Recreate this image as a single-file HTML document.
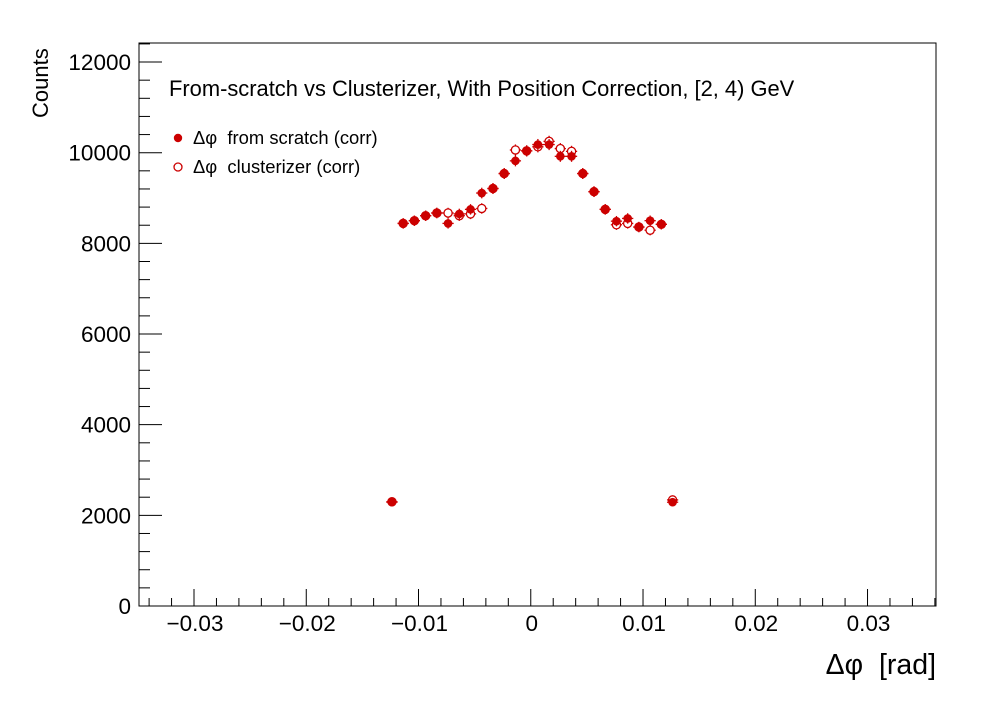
<!DOCTYPE html>
<html><head><meta charset="utf-8"><style>
body{margin:0;background:#fff}
svg text{font-family:"Liberation Sans",sans-serif;white-space:pre}
</style></head><body>
<svg id="chart" width="996" height="722" xmlns="http://www.w3.org/2000/svg">
<rect width="996" height="722" fill="#fff"/>
<rect x="139" y="43" width="797" height="563" fill="none" stroke="#000" stroke-width="1"/>
<g id="axes"></g>
<g id="marks"></g>
<text x="169" y="96" font-size="21.9">From-scratch vs Clusterizer, With Position Correction, [2, 4) GeV</text>
<g>
<circle cx="178" cy="138" r="4.2" fill="#cc0000"/>
<text x="193" y="144" font-size="18.4">Δφ  from scratch (corr)</text>
<circle cx="178" cy="167" r="4" fill="none" stroke="#cc0000" stroke-width="1.3"/>
<text x="193" y="173" font-size="18.4">Δφ  clusterizer (corr)</text>
</g>
<text transform="translate(48,118) rotate(-90)" font-size="22">Counts</text>
<text x="936" y="674" font-size="28.5" text-anchor="end">Δφ  [rad]</text>
</svg>
<script>
const xCenters=[-0.0125,-0.0115,-0.0105,-0.0095,-0.0085,-0.0075,-0.0065,-0.0055,-0.0045,-0.0035,-0.0025,-0.0015,-0.0005,0.0005,0.0015,0.0025,0.0035,0.0045,0.0055,0.0065,0.0075,0.0085,0.0095,0.0105,0.0115,0.0125];
const scratchVals=[2290,8440,8500,8610,8670,8440,8650,8750,9110,9210,9540,9820,10040,10180,10180,9920,9920,9540,9140,8750,8490,8550,8360,8500,8420,2290];
const clusterVals=[2300,8440,8500,8610,8670,8670,8610,8650,8770,9210,9540,10060,10040,10130,10250,10090,10030,9540,9140,8750,8410,8440,8360,8290,8420,2340];
const xTicks=[-0.03,-0.02,-0.01,0,0.01,0.02,0.03];
const xTickLabels=["−0.03","−0.02","−0.01","0","0.01","0.02","0.03"];
const yTicks=[0,2000,4000,6000,8000,10000,12000];
const yTickLabels=["0","2000","4000","6000","8000","10000","12000"];
const X0=139,X1=936,Y0=606,Y1=43;
const xmin=-0.0349,xmax=0.0361,ymin=0,ymax=12420;
const sx=v=>X0+(v-xmin)/(xmax-xmin)*(X1-X0);
const sy=v=>Y0-(v-ymin)/(ymax-ymin)*(Y0-Y1);
const NS="http://www.w3.org/2000/svg";
const axes=document.getElementById('axes'),marks=document.getElementById('marks');
function mk(tag,attrs,parent){const e=document.createElementNS(NS,tag);for(const k in attrs)e.setAttribute(k,attrs[k]);parent.appendChild(e);return e;}
for(let i=-17;i<=18;i++){const v=i*0.002;const x=sx(v);if(x<X0||x>X1)continue;const major=Math.abs(v*100-Math.round(v*100))<1e-6;
const t=mk('line',{x1:x,x2:x,y1:Y0,y2:Y0-(major?17:8),stroke:'#000'},axes);

}
xTicks.forEach((v,i)=>{const t=mk('text',{x:sx(v)+1,y:631,'font-size':22.5,'text-anchor':'middle'},axes);t.textContent=xTickLabels[i];

});
for(let v=0;v<=ymax;v+=400){const y=sy(v);const major=v%2000===0;
const t=mk('line',{x1:X0,x2:X0+(major?23:11),y1:y,y2:y,stroke:'#000'},axes);

}
yTicks.forEach((v,i)=>{const t=mk('text',{x:131,y:sy(v)+8,'font-size':22.5,'text-anchor':'end'},axes);t.textContent=yTickLabels[i];

});
function pt(xv,yv,filled,name){const x=sx(xv)+1.5,y=sy(yv),hw=sx(0.0005)-sx(0);const g=mk('g',{},marks);


const err=Math.sqrt(yv)*(Y0-Y1)/(ymax-ymin);
mk('line',{x1:x-hw,x2:x+hw,y1:y,y2:y,stroke:'#cc0000','stroke-width':1.3},g);
mk('line',{x1:x,x2:x,y1:y-err-1,y2:y+err+1,stroke:'#cc0000','stroke-width':1.3},g);
if(filled)mk('circle',{cx:x,cy:y,r:4.3,fill:'#cc0000'},g);
else mk('circle',{cx:x,cy:y,r:4.1,fill:'#fff',stroke:'#cc0000','stroke-width':1.3},g);}
xCenters.forEach((c,i)=>pt(c,clusterVals[i],false,'point-clusterizer'));
xCenters.forEach((c,i)=>pt(c,scratchVals[i],true,'point-scratch'));
</script>
</body></html>
